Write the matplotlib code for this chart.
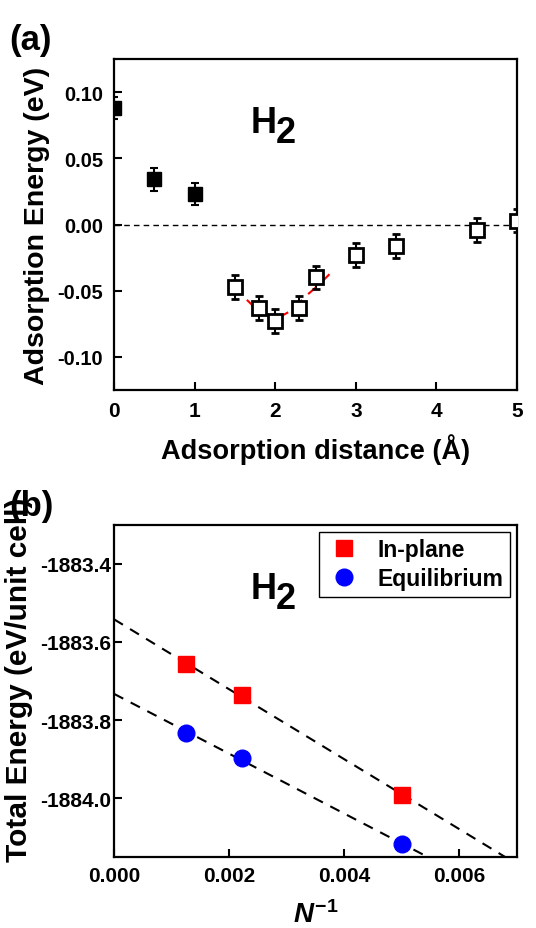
import numpy as np
import matplotlib
matplotlib.use("Agg")
import matplotlib.pyplot as plt
from matplotlib.ticker import FormatStrFormatter

plt.rcParams['font.family'] = ['Liberation Sans', 'DejaVu Sans']
plt.rcParams['font.weight'] = 'bold'
plt.rcParams['mathtext.fontset'] = 'custom'
plt.rcParams['mathtext.rm'] = 'Liberation Sans:bold'
plt.rcParams['mathtext.it'] = 'Liberation Sans:bold:italic'
plt.rcParams['mathtext.bf'] = 'Liberation Sans:bold'

# panel (a): adsorption energy vs distance
dist_filled = [0.0, 0.5, 1.0]
energy_filled = [0.088, 0.034, 0.023]
dist_open = [1.5, 1.8, 2.0, 2.3, 2.5, 3.0, 3.5, 4.5, 5.0]
energy_open = [-0.047, -0.063, -0.073, -0.063, -0.040, -0.023, -0.016, -0.004, 0.003]
err_filled = [0.0085, 0.0085, 0.0085]
err_open = [0.009] * 9
fit_dist = [1.5, 1.6, 1.75, 1.9, 2.05, 2.2, 2.4, 2.55, 2.69]
fit_energy = [-0.046, -0.054, -0.063, -0.068, -0.070, -0.065, -0.053, -0.045, -0.0365]

# panel (b): total energy vs 1/N
inv_n = [0.00125, 0.00222, 0.005]
e_inplane = [-1883.657, -1883.737, -1883.991]
e_equil = [-1883.834, -1883.896, -1884.118]

fig = plt.figure(figsize=(5.36, 9.29), dpi=100)
ax1 = fig.add_axes([0.2127, 0.5791, 0.7519, 0.3563])
ax2 = fig.add_axes([0.2127, 0.0767, 0.7519, 0.3574])

for ax in (ax1, ax2):
    for s in ax.spines.values():
        s.set_linewidth(1.6)
    ax.tick_params(direction='in', length=6, width=1.5, top=False, right=False)

# --- (a)
ax1.axhline(0, color='black', ls=(0, (4, 3)), lw=1)
ax1.plot(fit_dist, fit_energy, color='red', ls=(0, (5, 4)), lw=1.5)
ax1.errorbar(dist_filled, energy_filled, yerr=err_filled, fmt='s', color='black',
             ms=10, capsize=3, capthick=1.5, elinewidth=1.5, zorder=3)
ax1.errorbar(dist_open, energy_open, yerr=err_open, fmt='s', color='black',
             mfc='white', mec='black', mew=2, ms=10, capsize=3, capthick=1.5,
             elinewidth=1.5, zorder=3)
ax1.set_xlim(0, 5)
ax1.set_ylim(-0.125, 0.125)
ax1.set_xticks([0, 1, 2, 3, 4, 5])
ax1.set_yticks([-0.10, -0.05, 0.00, 0.05, 0.10])
ax1.yaxis.set_major_formatter(FormatStrFormatter('%.2f'))
ax1.xaxis.set_major_formatter(FormatStrFormatter('%d'))
ax1.tick_params(axis='y', labelsize=14.5, pad=8)
ax1.tick_params(axis='x', labelsize=15, pad=8)
ax1.set_xlabel('Adsorption distance (Å)', fontsize=19.6, fontweight='bold')
ax1.set_ylabel('Adsorption Energy (eV)', fontsize=20.5, fontweight='bold')
ax1.xaxis.set_label_coords(0.5, -0.13)
ax1.yaxis.set_label_coords(-0.16, 0.5)
ax1.text(0.34, 0.78, 'H', transform=ax1.transAxes, fontsize=26, fontweight='bold')
ax1.text(0.402, 0.75, '2', transform=ax1.transAxes, fontsize=26, fontweight='bold')
fig.text(0.018, 0.946, '(a)', fontsize=25, fontweight='bold')

# --- (b)
xfit = np.linspace(0, 0.0075, 50)
for e in (e_inplane, e_equil):
    k, b = np.polyfit(inv_n, e, 1)
    ax2.plot(xfit, k * xfit + b, color='black', ls=(0, (5, 4)), lw=1.5, zorder=1)
ax2.plot(inv_n, e_inplane, 's', color='red', ms=11, label='In-plane', zorder=3)
ax2.plot(inv_n, e_equil, 'o', color='blue', ms=12, label='Equilibrium', zorder=3)
ax2.set_xlim(0, 0.007)
ax2.set_ylim(-1884.15, -1883.3)
ax2.set_xticks([0, 0.002, 0.004, 0.006])
ax2.set_yticks([-1884.0, -1883.8, -1883.6, -1883.4])
ax2.xaxis.set_major_formatter(FormatStrFormatter('%.3f'))
ax2.yaxis.set_major_formatter(FormatStrFormatter('%.1f'))
ax2.tick_params(axis='y', labelsize=15, pad=2)
ax2.tick_params(axis='x', labelsize=15, pad=7)
ax2.set_xlabel(r'$N^{-1}$', fontsize=20)
ax2.set_ylabel('Total Energy (eV/unit cell)', fontsize=21.5, fontweight='bold')
ax2.xaxis.set_label_coords(0.5, -0.13)
ax2.yaxis.set_label_coords(-0.20, 0.535)
leg = ax2.legend(loc='upper right', fontsize=16.5, fancybox=False, edgecolor='black',
                 framealpha=1, borderaxespad=0.3, handlelength=1.6, handletextpad=0.65,
                 borderpad=0.3, labelspacing=0.25)
leg.get_frame().set_linewidth(1.0)
ax2.text(0.34, 0.78, 'H', transform=ax2.transAxes, fontsize=26, fontweight='bold')
ax2.text(0.402, 0.75, '2', transform=ax2.transAxes, fontsize=26, fontweight='bold')
fig.text(0.018, 0.445, '(b)', fontsize=25, fontweight='bold')

fig.savefig('out.png', dpi=100)
